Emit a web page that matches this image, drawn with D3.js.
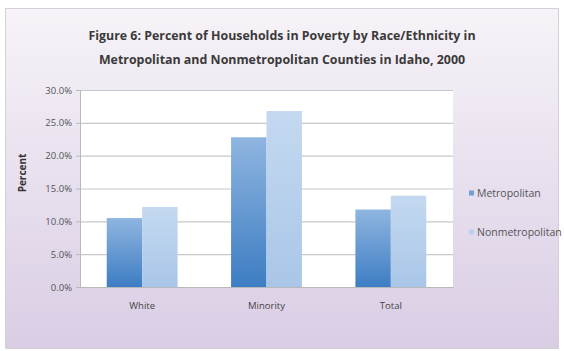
<!DOCTYPE html>
<html>
<head>
<meta charset="utf-8">
<script src="https://cdn.jsdelivr.net/npm/d3@7"></script>
<style>
  html, body { margin: 0; padding: 0; background: #ffffff; }
  svg { display: block; font-family: "Open Sans", "Noto Sans", sans-serif; }
</style>
</head>
<body>
<svg id="chart" width="564" height="351"></svg>
<script>
// Poverty rates by race/ethnicity, Idaho 2000
const categories = ["White", "Minority", "Total"];
const seriesNames = ["Metropolitan", "Nonmetropolitan"];
const metropolitan = [10.5, 22.8, 11.8];
const nonmetropolitan = [12.2, 26.8, 13.9];
const yTicks = [0, 5, 10, 15, 20, 25, 30];
const titleLines = [
  "Figure 6: Percent of Households in Poverty by Race/Ethnicity in",
  "Metropolitan and Nonmetropolitan Counties in Idaho, 2000"
];

const svg = d3.select("#chart");
const defs = svg.append("defs");

// frame background
const bg = defs.append("linearGradient").attr("id", "bgGrad")
  .attr("x1", 0).attr("y1", 0).attr("x2", 0).attr("y2", 1);
bg.append("stop").attr("offset", "0%").attr("stop-color", "#f7f3f8");
bg.append("stop").attr("offset", "100%").attr("stop-color", "#d9cde4");

const g1 = defs.append("linearGradient").attr("id", "metroGrad")
  .attr("x1", 0).attr("y1", 1).attr("x2", 0).attr("y2", 0);
g1.append("stop").attr("offset", "0%").attr("stop-color", "#3d7dc3");
g1.append("stop").attr("offset", "100%").attr("stop-color", "#8fb5e0");

const g2 = defs.append("linearGradient").attr("id", "nonmetroGrad")
  .attr("x1", 0).attr("y1", 1).attr("x2", 0).attr("y2", 0);
g2.append("stop").attr("offset", "0%").attr("stop-color", "#a9c6e8");
g2.append("stop").attr("offset", "100%").attr("stop-color", "#c4d9f0");

const fills = ["url(#metroGrad)", "url(#nonmetroGrad)"];
const legendFills = ["#6f9fd6", "#b9d1ee"];

svg.append("rect")
  .attr("x", 5.5).attr("y", 8.5).attr("width", 553).attr("height", 340)
  .attr("fill", "url(#bgGrad)")
  .attr("stroke", "#d4d0d8").attr("stroke-width", 1);

// title
svg.append("g").selectAll("text").data(titleLines).join("text")
  .attr("x", 282).attr("y", (d, i) => 40 + i * 24)
  .attr("text-anchor", "middle")
  .attr("font-size", 12.4).attr("font-weight", "bold")
  .attr("fill", "#3a3a3a")
  .text(d => d);

const plot = { left: 80, right: 453, top: 90, bottom: 287 };

const y = d3.scaleLinear().domain([0, 30]).range([plot.bottom, plot.top]);
const x0 = d3.scaleBand().domain(categories).range([plot.left, plot.right]).paddingInner(0.43).paddingOuter(0.215);
const x1 = d3.scaleBand().domain(seriesNames).range([0, x0.bandwidth()]);

// plot background
svg.append("rect")
  .attr("x", plot.left).attr("y", plot.top)
  .attr("width", plot.right - plot.left).attr("height", plot.bottom - plot.top)
  .attr("fill", "#ffffff");

// gridlines
svg.append("g").selectAll("line").data(yTicks).join("line")
  .attr("x1", plot.left).attr("x2", plot.right)
  .attr("y1", d => y(d) + 0.5).attr("y2", d => y(d) + 0.5)
  .attr("stroke", "#c8c8c8").attr("stroke-width", 1.2);

// y axis
const yAxis = svg.append("g")
  .attr("transform", `translate(${plot.left},0)`)
  .call(d3.axisLeft(y).tickValues(yTicks).tickSize(4).tickFormat(d => d.toFixed(1) + "%"));
yAxis.select(".domain").attr("stroke", "#b8b8b8");
yAxis.selectAll(".tick line").attr("stroke", "#b8b8b8");
yAxis.selectAll("text").attr("font-size", 9.5).attr("fill", "#555").attr("font-family", "Open Sans, sans-serif").attr("x", -8);

// bars
const series = [metropolitan, nonmetropolitan];
const groups = svg.append("g").selectAll("g").data(categories).join("g")
  .attr("transform", d => `translate(${x0(d)},0)`);
groups.selectAll("rect")
  .data((c, ci) => seriesNames.map((s, si) => ({ s, si, v: series[si][ci] })))
  .join("rect")
  .attr("x", d => x1(d.s))
  .attr("width", x1.bandwidth())
  .attr("y", d => y(d.v))
  .attr("height", d => y(0) - y(d.v))
  .attr("fill", d => fills[d.si]);

// x axis
const xAxis = svg.append("g")
  .attr("transform", `translate(0,${plot.bottom})`)
  .call(d3.axisBottom(x0).tickSize(0).tickPadding(15));
xAxis.select(".domain").attr("stroke", "#b8b8b8");
xAxis.selectAll("text").attr("font-size", 9.5).attr("fill", "#444").attr("font-family", "Open Sans, sans-serif");

// y title
svg.append("text")
  .attr("transform", "translate(26,173) rotate(-90)")
  .attr("text-anchor", "middle")
  .attr("font-size", 10).attr("font-weight", "bold").attr("fill", "#333")
  .text("Percent");

// legend
const legend = svg.append("g").selectAll("g").data(seriesNames).join("g")
  .attr("transform", (d, i) => `translate(469,${193 + i * 39})`);
legend.append("rect")
  .attr("x", 0).attr("y", -2.5).attr("width", 5).attr("height", 5)
  .attr("fill", (d, i) => legendFills[i]);
legend.append("text")
  .attr("x", 8).attr("y", 3.5)
  .attr("font-size", 10.5).attr("fill", "#555")
  .text(d => d);
</script>
</body>
</html>
